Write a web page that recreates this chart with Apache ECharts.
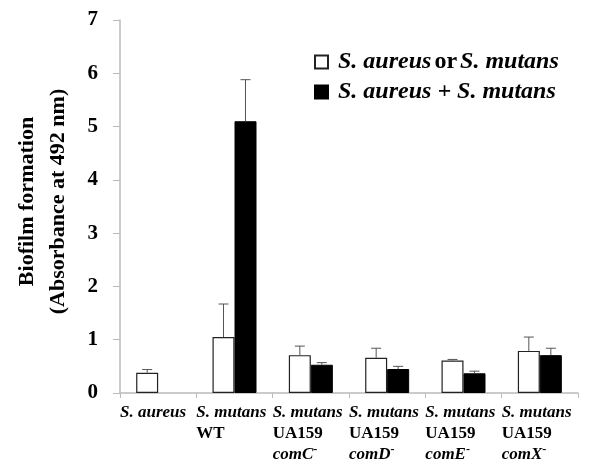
<!DOCTYPE html>
<html><head><meta charset="utf-8">
<script src="https://cdn.jsdelivr.net/npm/echarts@6/dist/echarts.min.js"></script>
<style>html,body{margin:0;padding:0;background:#fff}#c{width:592px;height:464px}</style>
</head><body><div id="c"></div>
<script>
// category labels: [species line, strain line, mutant gene]
const catSpecies = ['S. aureus', 'S. mutans', 'S. mutans', 'S. mutans', 'S. mutans', 'S. mutans'];
const catStrain  = ['', 'WT', 'UA159', 'UA159', 'UA159', 'UA159'];
const catGene    = ['', '', 'comC', 'comD', 'comE', 'comX'];
const seriesNames = ['S. aureus or S. mutans', 'S. aureus + S. mutans'];
// single culture (white) values and upper error ends
const singleVals = [0.38, 1.05, 0.71, 0.66, 0.61, 0.79];
const singleErr  = [0.06, 0.62, 0.17, 0.18, 0.02, 0.26];
// co-culture (black) values and errors
const mixVals = [null, 5.10, 0.53, 0.45, 0.37, 0.71];
const mixErr  = [null, 0.78, 0.04, 0.05, 0.04, 0.13];
const yTicks = [0, 1, 2, 3, 4, 5, 6, 7];

const FONT = '"Liberation Serif","Times New Roman",serif';
const cats = catSpecies.map((s, i) => 'c' + i);

function labelFmt(v, idx) {
  if (idx >= catSpecies.length) return '';
  let s = '{i|' + catSpecies[idx] + '}';
  if (catStrain[idx]) s += '\n{b|' + catStrain[idx] + '}';
  if (catGene[idx]) s += '\n{i|' + catGene[idx] + '}{sup|-}';
  return s;
}

function errSeries(vals, errs, offset) {
  return {
    type: 'custom',
    xAxisIndex: 0,
    z: 5,
    data: vals.map((v, i) => v == null ? null : [i, v, v + errs[i]]).filter(d => d),
    renderItem: function (params, api) {
      const base = api.coord([api.value(0), api.value(1)]);
      const top = api.coord([api.value(0), api.value(2)]);
      const x = base[0] + offset;
      return {
        type: 'group',
        children: [
          { type: 'line', shape: { x1: x, y1: base[1], x2: x, y2: top[1] }, style: { stroke: '#555', lineWidth: 1 } },
          { type: 'line', shape: { x1: x - 5, y1: top[1], x2: x + 5, y2: top[1] }, style: { stroke: '#555', lineWidth: 1 } }
        ]
      };
    }
  };
}

const chart = echarts.init(document.getElementById('c'));
chart.setOption({
  animation: false,
  textStyle: { fontFamily: FONT },
  grid: { left: 120, right: 14, top: 20, bottom: 71, containLabel: false, outerBoundsMode: 'none' },
  legend: {
    orient: 'vertical', left: 309, top: 45, itemGap: 6,
    itemWidth: 13, itemHeight: 13, icon: 'rect',
    data: seriesNames,
    formatter: function (n) {
      if (n === seriesNames[0]) return '{i|S. aureus} {b|or} {i|S. mutans}';
      return '{i|S. aureus + S. mutans}';
    },
    textStyle: {
      padding: [0, 0, 0, 5],
      rich: {
        i: { fontFamily: FONT, fontStyle: 'italic', fontWeight: 'bold', fontSize: 24, lineHeight: 24, color: '#000' },
        b: { fontFamily: FONT, fontWeight: 'bold', fontSize: 24, lineHeight: 24, color: '#000' }
      }
    }
  },
  xAxis: [{
    type: 'category', data: cats,
    axisLine: { lineStyle: { color: '#bbb', width: 1.5 } },
    axisTick: { show: true, length: 5, lineStyle: { color: '#bbb' } },
    axisLabel: { show: false }
  }, {
    type: 'category', data: cats.concat(['end']), boundaryGap: false,
    position: 'bottom', gridIndex: 0,
    axisLine: { show: false }, axisTick: { show: false },
    axisLabel: {
      interval: 0, align: 'left', margin: 9, formatter: labelFmt,
      rich: {
        i: { fontFamily: FONT, fontStyle: 'italic', fontWeight: 'bold', fontSize: 17, lineHeight: 21, color: '#000' },
        b: { fontFamily: FONT, fontWeight: 'bold', fontSize: 17, lineHeight: 21, color: '#000' },
        sup: { fontFamily: FONT, fontWeight: 'bold', fontSize: 12, lineHeight: 21, verticalAlign: 'top', color: '#000', padding: [0, 0, 8, 0] }
      }
    }
  }],
  yAxis: {
    type: 'value', min: yTicks[0], max: yTicks[yTicks.length - 1], interval: 1,
    name: 'Biofilm formation\n(Absorbance at 492 nm)',
    nameLocation: 'middle', nameGap: 46,
    nameTextStyle: { fontFamily: FONT, fontWeight: 'bold', fontSize: 22, lineHeight: 31, color: '#000', padding: [0, 0, 0, 10] },
    axisLine: { show: true, lineStyle: { color: '#bbb', width: 1.5 } },
    axisTick: { show: true, length: 7, lineStyle: { color: '#bbb' } },
    splitLine: { show: false },
    axisLabel: { margin: 22, fontFamily: FONT, fontWeight: 'bold', fontSize: 21, color: '#000' }
  },
  series: [
    { name: seriesNames[0], type: 'bar', xAxisIndex: 0, data: singleVals, barWidth: 22, barGap: '0%',
      itemStyle: { color: '#fff', borderColor: '#222', borderWidth: 1.2 } },
    { name: seriesNames[1], type: 'bar', xAxisIndex: 0, data: mixVals, barWidth: 22, barGap: '0%',
      itemStyle: { color: '#000', borderColor: '#000', borderWidth: 1 } },
    errSeries(singleVals, singleErr, -11),
    errSeries(mixVals, mixErr, 11)
  ]
});
</script></body></html>
